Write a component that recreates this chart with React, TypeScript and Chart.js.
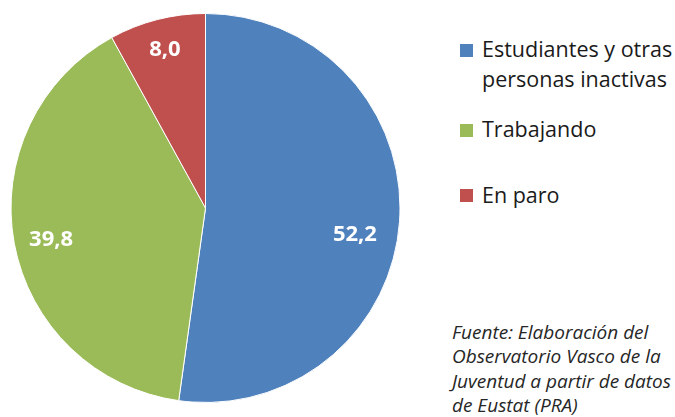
import React, { useEffect, useRef } from "react";
import { Chart, registerables } from "chart.js";

Chart.register(...registerables);

const categories = ["Estudiantes y otras personas inactivas", "Trabajando", "En paro"];
const legendLines = [["Estudiantes y otras", "personas inactivas"], ["Trabajando"], ["En paro"]];
const values = [52.2, 39.8, 8.0];
const valueLabels = ["52,2", "39,8", "8,0"];
const colors = ["#4F81BD", "#9BBB59", "#C0504D"];
const sourceLines = [
  "Fuente: Elaboración del",
  "Observatorio Vasco de la",
  "Juventud a partir de datos",
  "de Eustat (PRA)",
];

// label placement (radius fraction, angle tweak in degrees)
const labelRadius = [0.78, 0.81, 0.84];
const labelAngleShift = [6, -1, 0];

const labelPlugin = {
  id: "sliceLabels",
  afterDatasetsDraw(chart: any) {
    const ctx = chart.ctx;
    const meta = chart.getDatasetMeta(0);
    ctx.save();
    ctx.fillStyle = "#ffffff";
    ctx.font = "bold 22px 'Open Sans'";
    ctx.textAlign = "center";
    ctx.textBaseline = "middle";
    meta.data.forEach((arc: any, i: number) => {
      const { x, y, startAngle, endAngle, outerRadius } = arc.getProps(
        ["x", "y", "startAngle", "endAngle", "outerRadius"],
        true
      );
      const mid = (startAngle + endAngle) / 2 + (labelAngleShift[i] * Math.PI) / 180;
      const r = outerRadius * labelRadius[i];
      ctx.fillText(valueLabels[i], x + Math.cos(mid) * r, y + Math.sin(mid) * r);
    });
    ctx.restore();
  },
};

export default function App() {
  const ref = useRef<HTMLCanvasElement>(null);
  useEffect(() => {
    if (!ref.current) return;
    const chart = new Chart(ref.current, {
      type: "pie",
      data: {
        labels: categories,
        datasets: [
          {
            data: values,
            backgroundColor: colors,
            borderColor: "#ffffff",
            borderWidth: 1,
          },
        ],
      },
      options: {
        animation: false,
        responsive: false,
        maintainAspectRatio: false,
        layout: { padding: { left: 10, right: 10, top: 13, bottom: 14 } },
        plugins: { legend: { display: false }, tooltip: { enabled: false } },
      },
      plugins: [labelPlugin],
    });
    return () => chart.destroy();
  }, []);

  const legendTops = [[34, 64], [114], [180]];
  const boxTops = [44, 124, 189];

  return (
    <div
      style={{
        position: "fixed",
        left: 0,
        top: 0,
        width: 675,
        height: 417,
        overflow: "hidden",
        background: "#ffffff",
      }}
    >
      <canvas ref={ref} width={411} height={417} style={{ position: "absolute", left: 0, top: 0 }} />
      {categories.map((c, i) => (
        <React.Fragment key={c}>
          <div
            style={{
              position: "absolute",
              left: 460,
              top: boxTops[i],
              width: 13,
              height: 13,
              background: colors[i],
            }}
          />
          {legendLines[i].map((line, j) => (
            <div
              key={j}
              style={{
                position: "absolute",
                left: 482,
                top: legendTops[i][j],
                fontFamily: "'Open Sans'",
                fontSize: 21.5,
                lineHeight: "30px",
                color: "#1a1a1a",
                whiteSpace: "pre",
              }}
            >
              {line}
            </div>
          ))}
        </React.Fragment>
      ))}
      {sourceLines.map((line, i) => (
        <div
          key={i}
          style={{
            position: "absolute",
            left: 452,
            top: 319.5 + i * 24.5,
            fontFamily: "'Open Sans'",
            fontStyle: "italic",
            fontSize: 19,
            lineHeight: "24.5px",
            color: "#262626",
            whiteSpace: "pre",
          }}
        >
          {line}
        </div>
      ))}
    </div>
  );
}
